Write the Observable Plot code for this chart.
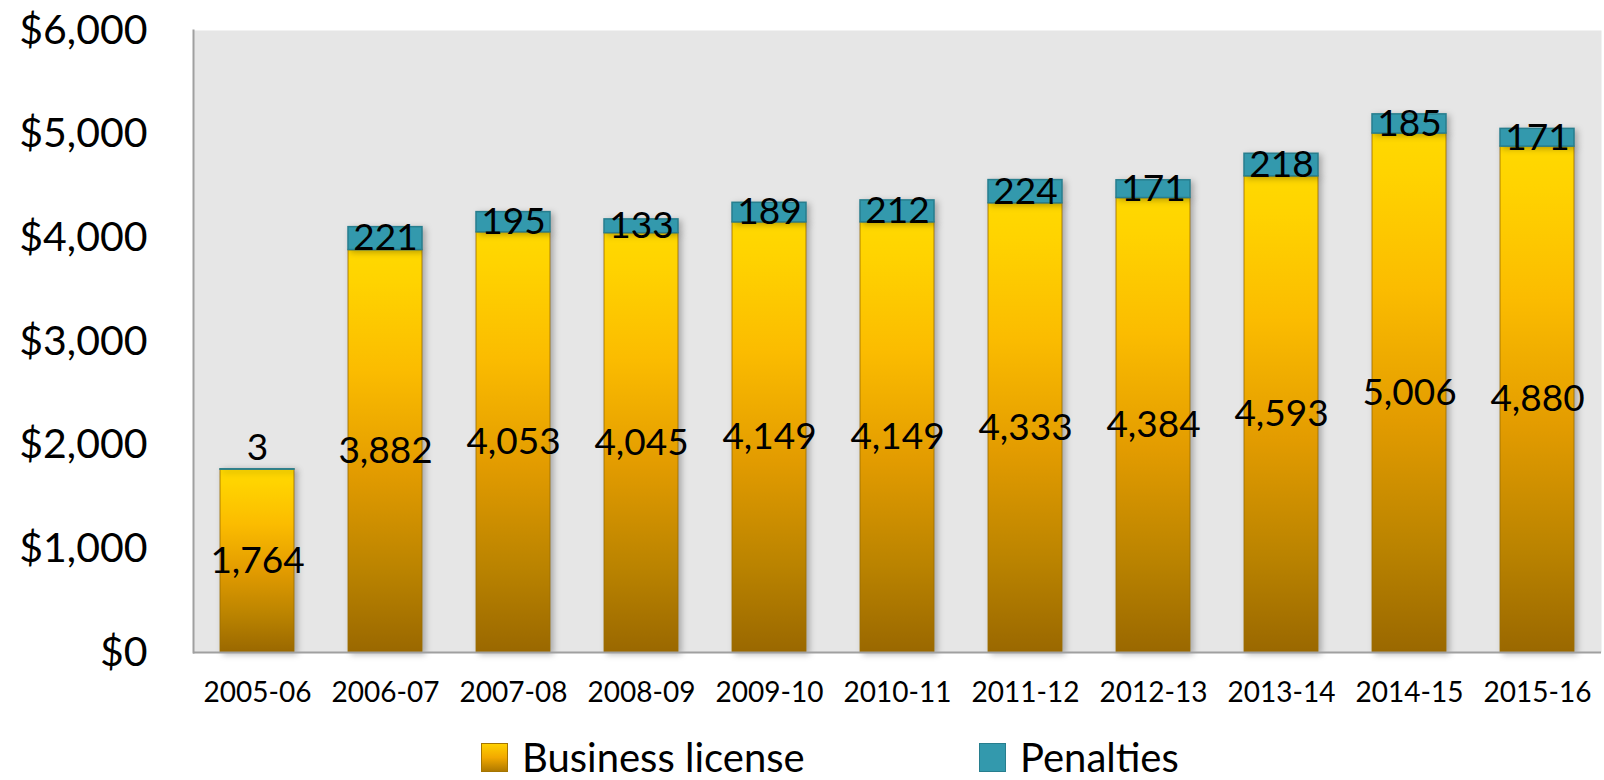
<!DOCTYPE html>
<html><head><meta charset="utf-8">
<script src="https://cdn.jsdelivr.net/npm/d3@7"></script>
<script src="https://cdn.jsdelivr.net/npm/@observablehq/plot@0.6"></script>
<style>
body{margin:0;background:#fff;font-family:Lato,sans-serif;overflow:hidden;}
#legend{position:relative;height:40px;margin-top:12px;}
.item{position:absolute;top:0;height:40px;display:flex;align-items:center;font-size:40px;line-height:1;color:#000;white-space:nowrap;}
.sw{width:27px;height:29px;margin-right:14px;box-sizing:border-box;}
</style></head><body>
<div id="chart"></div>
<div id="legend"></div>
<script>
const years = ["2005-06","2006-07","2007-08","2008-09","2009-10","2010-11","2011-12","2012-13","2013-14","2014-15","2015-16"];
const businessLicense = [1764,3882,4053,4045,4149,4149,4333,4384,4593,5006,4880];
const penalties = [3,221,195,133,189,212,224,171,218,185,171];
const yTicks = [0,1000,2000,3000,4000,5000,6000];
const seriesNames = ["Business license","Penalties"];
const seriesColors = ["url(#goldGrad)","#3399AD"];

const rows = years.map((year,i)=>({year, business: businessLicense[i], penalty: penalties[i]}));
const num = d3.format(",");

const chart = Plot.plot({
  width: 1604,
  height: 725,
  marginLeft: 193,
  marginRight: 3,
  marginTop: 30,
  marginBottom: 73,
  style: {fontFamily: "Lato, sans-serif", color: "#000", background: "#fff", overflow: "visible"},
  x: {domain: years, paddingInner: 0.42, paddingOuter: 0.21, label: null},
  y: {domain: [0, 6000], label: null},
  marks: [
    Plot.frame({fill: "#E6E6E6", stroke: null}),
    Plot.barY(rows, {x: "year", y1: 0, y2: "business", fill: seriesColors[0], stroke: "#9C6E00", strokeOpacity: 0.55, strokeWidth: 1.5}),
    Plot.barY(rows, {x: "year", y1: "business", y2: d => d.business + d.penalty, fill: seriesColors[1], stroke: "#277E8E", strokeWidth: 1.5}),
    Plot.ruleY([0], {stroke: "#A0A0A0", strokeWidth: 2}),
    Plot.frame({anchor: "left", stroke: "#A0A0A0", strokeWidth: 2}),
    Plot.axisY({ticks: yTicks, tickFormat: d => "$" + num(d), tickSize: 0, tickPadding: 46, fontSize: 41, fill: "#000", label: null}),
    Plot.axisX({tickSize: 0, tickPadding: 30, fontSize: 28, fill: "#000", label: null}),
    Plot.text(rows, {x: "year", y: d => d.business / 2, text: d => num(d.business), fontSize: 37, fill: "#000"}),
    Plot.text(rows.filter(d => d.penalty >= 20), {x: "year", y: d => d.business + d.penalty / 2, text: d => num(d.penalty), fontSize: 37, fill: "#000"}),
    Plot.text(rows.filter(d => d.penalty < 20), {x: "year", y: d => d.business + d.penalty, text: d => num(d.penalty), fontSize: 37, fill: "#000", dy: -21})
  ]
});

// gradient definition for business-license bars
const svgSel = d3.select(chart);
const defs = svgSel.insert("defs", ":first-child");
const grad = defs.append("linearGradient").attr("id", "goldGrad").attr("x1", 0).attr("y1", 0).attr("x2", 0).attr("y2", 1);
[[0, "#FFD900"], [0.08, "#FFD300"], [0.3, "#FBBC00"], [0.55, "#E39C00"], [0.8, "#BA8300"], [1, "#9A6800"]]
  .forEach(([o, c]) => grad.append("stop").attr("offset", o).attr("stop-color", c));
svgSel.selectAll('g[aria-label="bar"]').style("filter", "drop-shadow(3px 2px 3px rgba(0,0,0,0.28))");

document.getElementById("chart").appendChild(chart);

// legend
const legend = document.getElementById("legend");
const legendLefts = [481, 979];
const swatchStyles = [
  "background:linear-gradient(#FFD000,#F2A900 50%,#B07A00);border:1px solid #A57500;",
  "background:#3399AD;border:1.5px solid #277E8E;"
];
seriesNames.forEach((name, i) => {
  const item = document.createElement("div");
  item.className = "item";
  item.style.left = legendLefts[i] + "px";
  const sw = document.createElement("div");
  sw.className = "sw";
  sw.style.cssText = swatchStyles[i];
  const label = document.createElement("span");
  label.textContent = name;
  item.appendChild(sw);
  item.appendChild(label);
  legend.appendChild(item);
});
</script>
</body></html>
